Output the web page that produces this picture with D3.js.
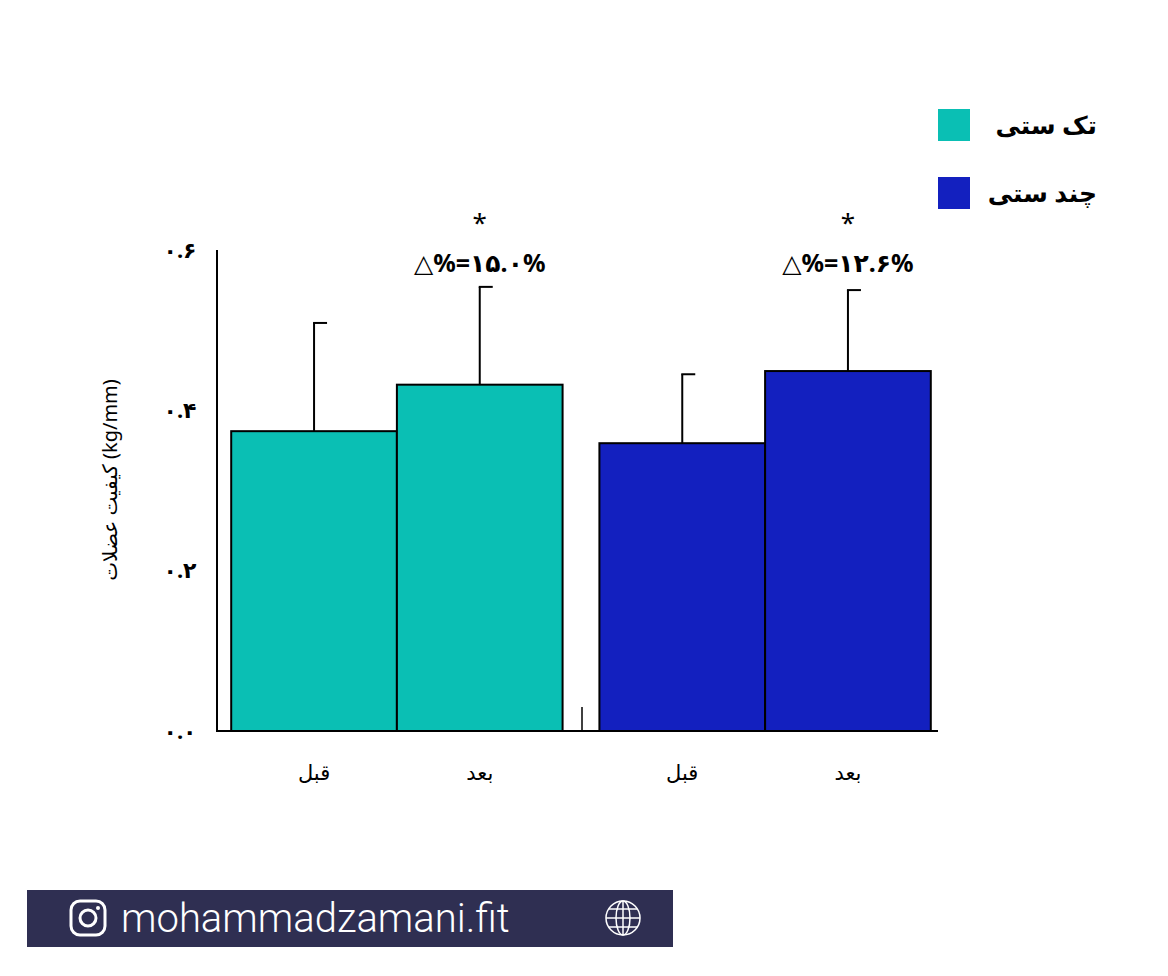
<!DOCTYPE html>
<html><head><meta charset="utf-8">
<script src="https://cdn.jsdelivr.net/npm/d3@7"></script>
<style>body{margin:0;background:#fff}svg{display:block}</style>
</head><body>
<svg id="chart" width="1168" height="976"></svg>
<script>
// data
const groups   = ['تک ستی', 'چند ستی'];
const phases   = ['قبل', 'بعد'];
const means    = [[0.374, 0.432], [0.359, 0.449]];
const errTops  = [[0.509, 0.554], [0.445, 0.550]];
const deltas   = ['△%=۱۵.۰%', '△%=۱۲.۶%'];
const yTicks   = [0, 0.2, 0.4, 0.6];
const yTickLbl = ['۰.۰', '۰.۲', '۰.۴', '۰.۶'];
const colors   = ['#0abfb4', '#1320bf'];

const svg = d3.select('#chart');
const font = '"Noto Sans", "DejaVu Sans", sans-serif';

const y = d3.scaleLinear().domain([0, 0.6]).range([731, 250]);
const xg = d3.scaleBand().domain(groups).range([222, 940]).paddingInner(0.1).paddingOuter(0.025);
const xp = d3.scaleBand().domain(phases).range([0, xg.bandwidth()]);

/* axes */
svg.append('line').attr('x1', 217).attr('x2', 217).attr('y1', 250).attr('y2', 731)
  .attr('stroke', '#000').attr('stroke-width', 2);
svg.append('line').attr('x1', 216).attr('x2', 938).attr('y1', 731).attr('y2', 731)
  .attr('stroke', '#000').attr('stroke-width', 2);
svg.append('line').attr('x1', 582).attr('x2', 582).attr('y1', 707).attr('y2', 731)
  .attr('stroke', '#000').attr('stroke-width', 1.5);

svg.append('g').selectAll('text').data(yTicks).join('text')
  .attr('x', 180).attr('y', d => y(d)).attr('dy', '0.35em')
  .attr('text-anchor', 'middle').attr('font-family', font)
  .attr('font-size', 22).attr('font-weight', 'bold')
  .text((d, i) => yTickLbl[i]);

svg.append('text')
  .attr('transform', 'translate(110,480) rotate(-90)')
  .attr('text-anchor', 'middle').attr('dy', '0.35em')
  .attr('font-family', font).attr('font-size', 20)
  .text('کیفیت عضلات (kg/mm)');

/* bars */
groups.forEach((g, gi) => {
  const gx = xg(g);
  phases.forEach((p, pi) => {
    const x0 = gx + xp(p), w = xp.bandwidth(), cx = x0 + w / 2;
    svg.append('line').attr('x1', cx).attr('x2', cx)
      .attr('y1', y(means[gi][pi])).attr('y2', y(errTops[gi][pi]))
      .attr('stroke', '#000').attr('stroke-width', 2);
    svg.append('line').attr('x1', cx - 1).attr('x2', cx + 13)
      .attr('y1', y(errTops[gi][pi])).attr('y2', y(errTops[gi][pi]))
      .attr('stroke', '#000').attr('stroke-width', 2);
    svg.append('rect').attr('x', x0).attr('y', y(means[gi][pi]))
      .attr('width', w).attr('height', y(0) - y(means[gi][pi]))
      .attr('fill', colors[gi]).attr('stroke', '#000').attr('stroke-width', 2);
    svg.append('text').attr('x', cx).attr('y', 780)
      .attr('text-anchor', 'middle').attr('font-family', font).attr('font-size', 21)
      .text(p);
  });
  const cx = gx + xp('بعد') + xp.bandwidth() / 2;
  svg.append('text').attr('x', cx).attr('y', 232).attr('text-anchor', 'middle')
    .attr('font-family', font).attr('font-size', 26).text('*');
  svg.append('text').attr('x', cx).attr('y', 272).attr('text-anchor', 'middle')
    .attr('font-family', font).attr('font-size', 25).attr('font-weight', 'bold')
    .attr('direction', 'ltr').text(deltas[gi]);
});

/* legend */
groups.forEach((g, i) => {
  const ly = 109 + i * 68;
  svg.append('rect').attr('x', 938).attr('y', ly).attr('width', 32).attr('height', 32)
    .attr('fill', colors[i]);
  svg.append('text').attr('x', 1097).attr('y', ly + 16).attr('dy', '0.35em')
    .attr('text-anchor', 'end').attr('font-family', font).attr('font-size', 25)
    .attr('font-weight', 'bold').text(g);
});

/* footer */
svg.append('rect').attr('x', 27).attr('y', 890).attr('width', 646).attr('height', 57)
  .attr('fill', '#2f2f52');
const ig = svg.append('g').attr('fill', 'none').attr('stroke', '#fff').attr('stroke-width', 3);
ig.append('rect').attr('x', 71).attr('y', 901).attr('width', 34).attr('height', 34).attr('rx', 9);
ig.append('circle').attr('cx', 88).attr('cy', 918).attr('r', 8);
svg.append('circle').attr('cx', 98).attr('cy', 908).attr('r', 2).attr('fill', '#fff');
svg.append('text').attr('x', 121).attr('y', 918).attr('dy', '0.35em')
  .attr('font-family', 'Roboto, sans-serif').attr('font-size', 40).attr('font-weight', 300)
  .attr('fill', '#fff').text('mohammadzamani.fit');
const gl = svg.append('g').attr('fill', 'none').attr('stroke', '#fff').attr('stroke-width', 1.5);
gl.append('circle').attr('cx', 623).attr('cy', 918).attr('r', 17);
gl.append('ellipse').attr('cx', 623).attr('cy', 918).attr('rx', 7).attr('ry', 17);
gl.append('line').attr('x1', 623).attr('x2', 623).attr('y1', 901).attr('y2', 935);
gl.append('line').attr('x1', 606).attr('x2', 640).attr('y1', 918).attr('y2', 918);
gl.append('line').attr('x1', 609).attr('x2', 637).attr('y1', 909).attr('y2', 909);
gl.append('line').attr('x1', 609).attr('x2', 637).attr('y1', 927).attr('y2', 927);
</script>
</body></html>
